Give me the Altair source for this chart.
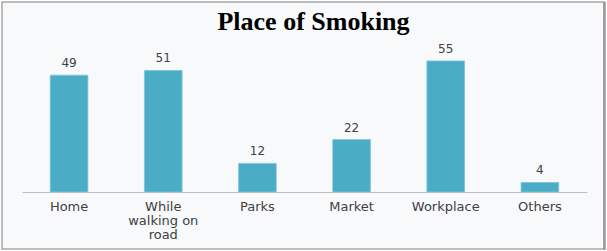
import altair as alt
import pandas as pd

places = ["Home", "While walking on road", "Parks", "Market", "Workplace", "Others"]
counts = [49, 51, 12, 22, 55, 4]
chart_title = "Place of Smoking"

df = pd.DataFrame({"place": places, "count": counts})

W, H = 565, 143

x_enc = alt.X(
    "place:N",
    sort=places,
    scale=alt.Scale(paddingInner=0.6, paddingOuter=0.3),
    axis=alt.Axis(
        title=None,
        ticks=False,
        domainColor="#bfbfbf",
        domainWidth=1.2,
        labelAngle=0,
        labelFont="DejaVu Sans",
        labelFontSize=13,
        labelColor="#404040",
        labelPadding=8,
        labelLineHeight=14,
        labelExpr="datum.label == 'While walking on road' ? ['While', 'walking on', 'road'] : datum.label",
        zindex=1,
    ),
)
y_enc = alt.Y("count:Q", scale=alt.Scale(domain=[0, 60]), axis=None)

one = pd.DataFrame({"k": [0]})

# outer frame around the whole figure
frame = alt.Chart(one).mark_rect(
    fill="#f8f9fb", stroke="#a8a8a8", strokeWidth=1.5, clip=False
).encode(
    x=alt.value(-20), x2=alt.value(582), y=alt.value(-47), y2=alt.value(200)
)
shadow = alt.Chart(one).mark_rule(
    color="#9a9a9a", strokeWidth=2.5, clip=False
).encode(x=alt.value(582.5), y=alt.value(-47), y2=alt.value(201))

# heading drawn inside the frame
heading = alt.Chart(pd.DataFrame({"t": [chart_title]})).mark_text(
    font="Liberation Serif",
    fontSize=26,
    fontWeight="bold",
    color="#000000",
    align="center",
    baseline="alphabetic",
    clip=False,
).encode(x=alt.value(291.5), y=alt.value(-19), text="t:N")

base = alt.Chart(df)
bars = base.mark_bar(color="#4bacc6", stroke="#7cc6da", strokeWidth=0.8).encode(x=x_enc, y=y_enc)
labels = base.mark_text(
    dy=-12, font="DejaVu Sans", fontSize=12, color="#404040"
).encode(x=x_enc, y=y_enc, text="count:Q")

chart = (
    alt.layer(frame, shadow, heading, bars, labels)
    .properties(
        width=W,
        height=H,
        autosize=alt.AutoSizeParams(type="none"),
        padding={"left": 22, "top": 49, "right": 20, "bottom": 59},
        background="white",
    )
    .configure_view(stroke=None)
)

chart.save("out.html", embed_options={"renderer": "svg", "actions": False})
